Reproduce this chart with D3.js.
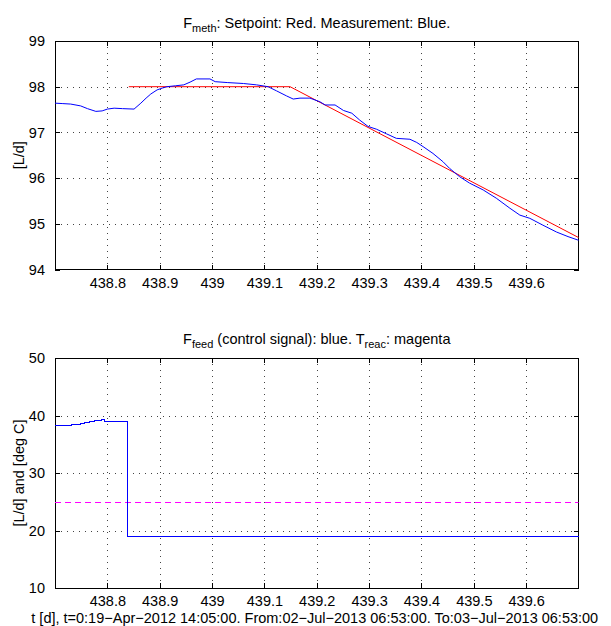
<!DOCTYPE html>
<html><head><meta charset="utf-8">
<script src="https://cdn.jsdelivr.net/npm/d3@7"></script>
<style>
body{margin:0;background:#fff;}
text{font-family:"Liberation Sans",Arial,Helvetica,sans-serif;fill:#000;}
</style></head>
<body><svg id="c" width="611" height="626"></svg>
<script>
// ---------- data ----------
const xTicks = [438.8,438.9,439.0,439.1,439.2,439.3,439.4,439.5,439.6];
const xTickLabels = ["438.8","438.9","439","439.1","439.2","439.3","439.4","439.5","439.6"];
const topYTicks = [94,95,96,97,98,99];
const botYTicks = [10,20,30,40,50];

const methSetT = [438.841, 439.149, 439.700];
const methSetV = [98.00, 98.00, 94.70];

const methMeasT = [438.700,438.715,438.730,438.749,438.762,438.778,438.790,438.800,438.813,438.829,
  438.851,438.864,438.874,438.883,438.895,438.905,438.914,438.930,438.946,438.958,438.970,438.996,
  439.006,439.030,439.060,439.085,439.107,439.123,439.142,439.155,439.168,439.187,439.206,439.216,
  439.235,439.251,439.267,439.282,439.298,439.314,439.333,439.352,439.378,439.391,439.403,439.422,
  439.441,439.454,439.473,439.492,439.518,439.543,439.569,439.588,439.607,439.632,439.658,439.680,439.700];
const methMeasV = [97.64,97.63,97.62,97.58,97.52,97.46,97.47,97.51,97.53,97.52,
  97.51,97.64,97.75,97.84,97.93,97.97,98.00,98.02,98.04,98.10,98.17,98.17,
  98.11,98.09,98.07,98.04,98.00,97.91,97.80,97.73,97.75,97.75,97.67,97.60,
  97.60,97.48,97.42,97.27,97.13,97.07,96.97,96.87,96.85,96.78,96.69,96.54,
  96.36,96.21,96.03,95.89,95.74,95.56,95.34,95.19,95.12,94.97,94.82,94.72,94.64];

const feedT = [438.700,438.731,438.748,438.757,438.766,438.776,438.789,438.795,438.838,439.700];
const feedV = [38.2,38.4,38.55,38.8,39.0,39.2,39.25,39.0,19.0,19.0];

const reacT = [438.700, 439.700];
const reacV = [25, 25];

// ---------- layout ----------
const svg = d3.select("#c");
const L = 55, R = 578.5;
const x = d3.scaleLinear().domain([438.7, 439.7]).range([L, R]);

function panel(top, bottom, yDomain, yTicks, ylabel){
  const y = d3.scaleLinear().domain(yDomain).range([bottom, top]);
  const g = svg.append("g");
  // grid
  g.selectAll(".gx").data(xTicks).enter().append("line")
    .attr("x1", d=>Math.round(x(d))+0.5).attr("x2", d=>Math.round(x(d))+0.5)
    .attr("y1", top).attr("y2", bottom)
    .attr("stroke","#444").attr("stroke-width",1).attr("stroke-dasharray","1,5");
  g.selectAll(".gy").data(yTicks.slice(1,-1)).enter().append("line")
    .attr("y1", d=>Math.round(y(d))+0.5).attr("y2", d=>Math.round(y(d))+0.5)
    .attr("x1", L).attr("x2", R)
    .attr("stroke","#444").attr("stroke-width",1).attr("stroke-dasharray","1,5");
  // axes with inward ticks
  const ax = g.append("g").attr("shape-rendering","crispEdges");
  const bottomAxis = d3.axisBottom(x).tickValues(xTicks).tickSizeInner(-5).tickSizeOuter(0)
    .tickFormat((d,i)=>xTickLabels[i]).tickPadding(8);
  const topAxis = d3.axisTop(x).tickValues(xTicks).tickSizeInner(-5).tickSizeOuter(0).tickFormat("");
  const leftAxis = d3.axisLeft(y).tickValues(yTicks).tickSizeInner(-5).tickSizeOuter(0)
    .tickFormat(d3.format("d")).tickPadding(10);
  const rightAxis = d3.axisRight(y).tickValues(yTicks).tickSizeInner(-5).tickSizeOuter(0).tickFormat("");
  ax.append("g").attr("transform",`translate(0,${bottom})`).call(bottomAxis);
  ax.append("g").attr("transform",`translate(0,${top})`).call(topAxis);
  ax.append("g").attr("transform",`translate(${L},0)`).call(leftAxis);
  ax.append("g").attr("transform",`translate(${R},0)`).call(rightAxis);
  ax.selectAll(".domain").remove();
  ax.selectAll("line").attr("stroke","#000");
  ax.selectAll("text").style("font-size","14.5px").style("font-family","Liberation Sans, Arial, sans-serif");
  g.append("rect").attr("x",L).attr("y",top).attr("width",R-L).attr("height",bottom-top)
    .attr("fill","none").attr("stroke","#000").attr("stroke-width",1).attr("shape-rendering","crispEdges");
  g.append("text").attr("transform",`translate(24,${(top+bottom)/2}) rotate(-90)`)
    .attr("text-anchor","middle").style("font-size","14.5px").text(ylabel);
  return {y, g};
}

const P1 = panel(41, 269.5, [94, 99], topYTicks, "[L/d]");
const P2 = panel(358, 588, [10, 50], botYTicks, "[L/d] and [deg C]");

// top panel lines
const line1 = d3.line().x(d=>x(d[0])).y(d=>P1.y(d[1]));
P1.g.append("path").datum(d3.zip(methSetT, methSetV)).attr("d", line1)
  .attr("fill","none").attr("stroke","#ff0000").attr("stroke-width",1);
P1.g.append("path").datum(d3.zip(methMeasT, methMeasV)).attr("d", line1)
  .attr("fill","none").attr("stroke","#0000ff").attr("stroke-width",1);

// bottom panel lines
const line2 = d3.line().x(d=>x(d[0])).y(d=>P2.y(d[1])).curve(d3.curveStepAfter);
const yMag = P2.y(reacV[0]);
const snap = Math.round(yMag) + 0.5 - yMag;
P2.g.append("path").datum(d3.zip(reacT, reacV)).attr("d", d3.line().x(d=>x(d[0])).y(d=>P2.y(d[1])))
  .attr("transform", `translate(0,${snap})`)
  .attr("fill","none").attr("stroke","#ff00ff").attr("stroke-width",1).attr("stroke-dasharray","6,4");
P2.g.append("path").datum(d3.zip(feedT, feedV)).attr("d", line2)
  .attr("fill","none").attr("stroke","#0000ff").attr("stroke-width",1).attr("shape-rendering","crispEdges");

// titles
function subTitle(cx, yb, parts){
  const t = svg.append("text").attr("x",cx).attr("y",yb).attr("text-anchor","middle").style("font-size","14.5px");
  parts.forEach(p=>{
    if(p.sub){
      t.append("tspan").attr("dy",4).style("font-size","11px").text(p.t);
    } else {
      t.append("tspan").attr("dy", p.back? -4 : 0).text(p.t);
    }
  });
}
subTitle((L+R)/2, 28, [{t:"F"},{t:"meth",sub:true},{t:": Setpoint: Red. Measurement: Blue.",back:true}]);
subTitle((L+R)/2, 344, [{t:"F"},{t:"feed",sub:true},{t:" (control signal): blue. T",back:true},{t:"reac",sub:true},{t:": magenta",back:true}]);

svg.append("text").attr("x",(L+R)/2 - 2).attr("y",623).attr("text-anchor","middle").style("font-size","14.5px")
  .text("t [d], t=0:19\u2212Apr\u22122012 14:05:00. From:02\u2212Jul\u22122013 06:53:00. To:03\u2212Jul\u22122013 06:53:00");
</script></body></html>
